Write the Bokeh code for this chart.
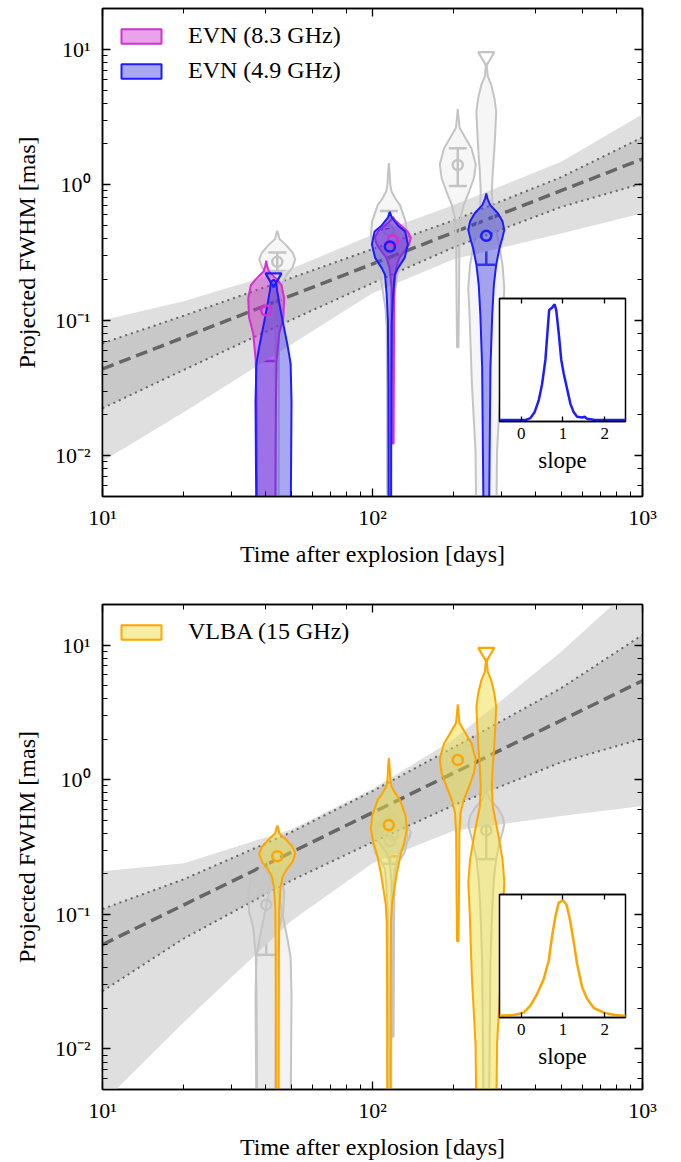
import numpy as np
from bokeh.plotting import figure
from bokeh.layouts import row, column
from bokeh.models import (LogAxis, LinearAxis, LogTicker, FixedTicker, CustomJSTickFormatter,
                          Range1d, Whisker, TeeHead, Legend, LegendItem, ColumnDataSource)
from bokeh.embed import file_html
from bokeh.resources import INLINE

FONT = "Liberation Serif"

# ---------------- data ----------------
x_lim = [10, 1000.5]
y_lim = [0.005, 20]

band_t = [10, 20, 50, 100, 200, 500, 1000]

# EVN power-law fit (top panel), FWHM in mas
evn_fit_t = [10, 1000]
evn_fit_med = [0.0437, 1.549]
evn_dark_lo = [0.0224, 0.0430, 0.1005, 0.188, 0.345, 0.686, 1.023]
evn_dark_hi = [0.0676, 0.108, 0.205, 0.335, 0.547, 1.138, 2.239]
evn_light_lo = [0.00912, 0.0209, 0.0661, 0.158, 0.282, 0.437, 0.617]
evn_light_hi = [0.100, 0.138, 0.240, 0.427, 0.708, 1.479, 3.311]

# VLBA power-law fit (bottom panel)
vlba_fit_t = [10, 1000]
vlba_fit_med = [0.0596, 5.43]
vlba_dark_lo = [0.0269, 0.0661, 0.178, 0.343, 0.646, 1.349, 2.018]
vlba_dark_hi = [0.1096, 0.182, 0.407, 0.822, 1.738, 4.786, 11.89]
vlba_light_lo = [0.00398, 0.0158, 0.0891, 0.240, 0.417, 0.537, 0.637]
vlba_light_hi = [0.209, 0.240, 0.427, 0.851, 1.995, 8.91, 31.6]

# measurements
evn83_t = [40.4, 119]
evn83_med = [0.118, 0.39]
evn83_lo = [0.050, 0.34]
evn83_hi = [0.171, 0.44]

evn49_t = [116, 264]
evn49_med = [0.35, 0.42]
evn49_lo = [0.237, 0.257]
evn49_hi = [0.47, 0.54]
evn49_ul_t = [43]
evn49_ul = [0.205]

vlba_t = [44.4, 115, 207]
vlba_med = [0.27, 0.46, 1.40]
vlba_lo = [0.231, 0.27, 0.98]
vlba_hi = [0.316, 0.64, 1.86]
vlba_ul_t = [264]
vlba_ul = [8.8]

# posterior violins: log10(FWHM) knots and relative half-width
evn83_vio_t = [40.4, 119]
evn83_vio_logy = [
    [-0.56, -0.60, -0.64, -0.70, -0.74, -0.84, -0.98, -1.10, -1.30, -1.60, -2.00, -2.50],
    [-0.235, -0.26, -0.30, -0.345, -0.39, -0.44, -0.49, -0.54, -0.615, -0.75, -1.20, -1.91],
]
evn83_vio_w = [
    [0.0, 0.05, 0.15, 0.60, 0.85, 1.0, 0.95, 0.72, 0.58, 0.54, 0.52, 0.50],
    [0.0, 0.10, 0.45, 0.82, 1.0, 0.90, 0.64, 0.36, 0.18, 0.08, 0.06, 0.04],
]

evn49_vio_t = [43, 116, 264]
evn49_vio_logy = [
    [-0.70, -0.72, -0.78, -0.86, -1.00, -1.10, -1.20, -1.32, -1.60, -2.00, -2.50],
    [-0.20, -0.24, -0.30, -0.345, -0.44, -0.54, -0.615, -0.664, -0.81, -1.00, -1.50, -2.50],
    [-0.064, -0.10, -0.15, -0.21, -0.27, -0.333, -0.39, -0.47, -0.59, -0.74, -0.96, -1.35, -2.50],
]
evn49_vio_w = [
    [0.0, 0.15, 0.20, 0.30, 0.50, 0.65, 0.80, 0.95, 1.0, 0.98, 0.95],
    [0.0, 0.10, 0.45, 0.85, 1.0, 0.82, 0.45, 0.27, 0.18, 0.11, 0.08, 0.07],
    [0.0, 0.06, 0.22, 0.64, 0.90, 1.0, 0.90, 0.73, 0.55, 0.42, 0.33, 0.23, 0.15],
]

vlba_vio_t = [44.4, 115, 207, 264]
vlba_vio_logy = [
    [-0.34, -0.36, -0.40, -0.44, -0.50, -0.55, -0.61, -0.66, -0.72, -0.80, -0.95, -1.30, -1.80, -2.50],
    [0.16, 0.10, 0.00, -0.05, -0.10, -0.15, -0.27, -0.37, -0.47, -0.56, -0.69, -0.80, -0.92, -1.05, -1.50, -2.50],
    [0.56, 0.50, 0.42, 0.34, 0.27, 0.15, 0.05, -0.05, -0.15, -0.25, -0.40, -0.80, -1.20],
    [0.90, 0.85, 0.80, 0.74, 0.64, 0.54, 0.39, 0.245, 0.10, -0.05, -0.20, -0.39, -0.59, -0.76, -1.00, -1.47, -1.96, -2.50],
]
vlba_vio_w = [
    [0.0, 0.05, 0.12, 0.45, 0.85, 1.0, 0.85, 0.55, 0.30, 0.18, 0.11, 0.09, 0.08, 0.07],
    [0.0, 0.04, 0.08, 0.15, 0.35, 0.62, 0.93, 1.0, 0.85, 0.65, 0.45, 0.32, 0.18, 0.12, 0.10, 0.09],
    [0.0, 0.04, 0.10, 0.45, 0.76, 1.0, 0.90, 0.63, 0.33, 0.15, 0.09, 0.07, 0.04],
    [0.0, 0.05, 0.08, 0.27, 0.45, 0.55, 0.50, 0.44, 0.36, 0.31, 0.36, 0.64, 0.90, 1.0, 0.92, 0.80, 0.60, 0.55],
]

# slope posteriors (insets)
inset_ticks = [0, 1, 2]
evn_slope_x = [-0.52, 0.10, 0.22, 0.32, 0.42, 0.50, 0.58, 0.64, 0.67, 0.74, 0.80, 0.84, 0.90,
               0.96, 1.02, 1.10, 1.18, 1.26, 1.34, 1.46, 1.52, 1.58, 1.74, 1.90, 2.50]
evn_slope_pdf = [0.0, 0.0, 0.017, 0.067, 0.17, 0.31, 0.52, 0.81, 0.95, 0.97, 1.0, 0.95, 0.75,
                 0.52, 0.40, 0.27, 0.14, 0.067, 0.029, 0.023, 0.029, 0.012, 0.003, 0.0, 0.0]
vlba_slope_x = [-0.52, -0.18, 0.06, 0.22, 0.38, 0.54, 0.66, 0.74, 0.82, 0.90, 1.00, 1.09, 1.17,
                1.25, 1.34, 1.46, 1.58, 1.74, 1.98, 2.24, 2.52]
vlba_slope_pdf = [0.003, 0.01, 0.03, 0.09, 0.19, 0.32, 0.48, 0.69, 0.86, 0.98, 1.0, 0.96, 0.83,
                  0.66, 0.45, 0.25, 0.15, 0.07, 0.03, 0.01, 0.0]

# ---------------- styles ----------------
MAG = "#d42ed4"
MAG_FILL = "#cc22cc"
BLUE = "#1c1cff"
BLUE_FILL = "#3030e0"
ORANGE = "#ffa500"
ORANGE_FILL = "#eedd44"
GRAY = "#c4c4c4"
LIGHT = "#dfdfdf"
DARK = "#c8c8c8"
LINE = "#666666"
VIO_HALF = 18.0 / 270.0   # max half width of a violin, in dex of time

MAIN_W = 666
TOP_H = 580
BOT_H = 582

SUP = CustomJSTickFormatter(code="""
const e = Math.round(Math.log10(tick));
const m = {"-": "\u207b", "0": "\u2070", "1": "\u00b9", "2": "\u00b2", "3": "\u00b3", "4": "\u2074"};
return "10" + String(e).split("").map(c => m[c]).join("");
""")


def empty_fmt():
    return CustomJSTickFormatter(code="return '';")


def style_axis(ax, maj=8, mnr=5):
    ax.major_tick_in = maj
    ax.major_tick_out = 0
    ax.minor_tick_in = mnr
    ax.minor_tick_out = 0
    ax.major_tick_line_width = 1.3
    ax.minor_tick_line_width = 1.0
    ax.major_tick_line_color = "black"
    ax.minor_tick_line_color = "black"
    ax.axis_line_width = 1.5
    ax.axis_line_color = "black"
    ax.major_label_text_font = FONT
    ax.major_label_text_font_size = "22px"
    ax.major_label_text_color = "black"
    ax.axis_label_text_font = FONT
    ax.axis_label_text_font_size = "24px"
    ax.axis_label_text_font_style = "normal"
    ax.axis_label_text_color = "black"


def hide_labels(ax):
    ax.formatter = empty_fmt()
    ax.major_label_text_font_size = "0px"
    ax.major_label_standoff = 0


def violin_polys(ts, logys, ws):
    xs, ys = [], []
    for t, L, w in zip(ts, logys, ws):
        L = np.asarray(L, float)
        w = np.asarray(w, float)
        y = 10.0 ** L
        xl = t * 10.0 ** (-VIO_HALF * w)
        xr = t * 10.0 ** (VIO_HALF * w)
        xs.append([float(v) for v in list(xl) + list(xr[::-1])])
        ys.append([float(v) for v in list(y) + list(y[::-1])])
    return xs, ys


def main_panel(height, top_b, bottom_b):
    p = figure(width=MAIN_W, height=height, x_axis_type="log", y_axis_type="log",
               x_range=Range1d(*x_lim), y_range=Range1d(*y_lim),
               output_backend="svg", toolbar_location=None,
               min_border_left=102, min_border_right=24,
               min_border_top=top_b, min_border_bottom=bottom_b)
    p.frame_align = False
    p.grid.visible = False
    p.outline_line_color = "black"
    p.outline_line_width = 1.5
    p.background_fill_color = "white"
    p.border_fill_color = "white"
    for ax in (p.xaxis[0], p.yaxis[0]):
        style_axis(ax)
        ax.formatter = SUP
    p.xaxis.major_label_standoff = 8
    p.yaxis.major_label_standoff = 12
    p.xaxis.axis_label = "Time after explosion [days]"
    p.xaxis.axis_label_standoff = 8
    p.yaxis.axis_label = "Projected FWHM [mas]"
    p.yaxis.axis_label_standoff = 12
    ra = LogAxis(ticker=LogTicker())
    style_axis(ra)
    hide_labels(ra)
    p.add_layout(ra, "right")
    ta = LogAxis(ticker=LogTicker())
    style_axis(ta)
    hide_labels(ta)
    p.add_layout(ta, "above")
    return p


def draw_fit(p, fit_t, fit_med, dlo, dhi, llo, lhi):
    p.varea(x=band_t, y1=llo, y2=lhi, fill_color=LIGHT)
    p.varea(x=band_t, y1=dlo, y2=dhi, fill_color=DARK)
    p.line(fit_t, fit_med, line_color=LINE, line_width=3.5, line_dash="12 6")
    p.line(band_t, dhi, line_color=LINE, line_width=2, line_dash="2 4")
    p.line(band_t, dlo, line_color=LINE, line_width=2, line_dash="2 4")


def draw_violins(p, ts, logys, ws, line, fill, alpha):
    xs, ys = violin_polys(ts, logys, ws)
    return p.patches(xs, ys, line_color=line, line_width=2, fill_color=fill, fill_alpha=alpha)


def draw_points(p, t, med, lo, hi, color):
    src = ColumnDataSource(dict(t=t, med=med, lo=lo, hi=hi))
    w = Whisker(source=src, base="t", upper="hi", lower="lo", dimension="height",
                line_color=color, line_width=2.5,
                upper_head=TeeHead(size=18, line_color=color, line_width=2.5),
                lower_head=TeeHead(size=18, line_color=color, line_width=2.5))
    p.add_layout(w)
    p.scatter("t", "med", source=src, marker="circle", size=10, fill_color=None,
              line_color=color, line_width=2.5)


def draw_ul(p, t, ul, color):
    p.scatter(t, ul, marker="inverted_triangle", size=16, fill_color=None,
              line_color=color, line_width=2.2)


def inset(xs, ys, color, height, top_b):
    # tall transparent figure; only the small frame at (top_b) is drawn
    q = figure(width=146, height=height, x_range=Range1d(-0.52, 2.5), y_range=Range1d(-0.012, 1.05),
               output_backend="svg", toolbar_location=None,
               min_border_left=10, min_border_right=10, min_border_top=top_b,
               min_border_bottom=height - top_b - 123)
    q.frame_align = False
    q.grid.visible = False
    q.outline_line_color = "black"
    q.outline_line_width = 1.5
    q.background_fill_color = "white"
    q.border_fill_color = None
    q.border_fill_alpha = 0
    q.yaxis.visible = False
    q.line(xs, ys, line_color=color, line_width=2.5)
    ax = q.xaxis[0]
    style_axis(ax, maj=5, mnr=0)
    ax.ticker = FixedTicker(ticks=inset_ticks)
    ax.major_label_text_font_size = "17px"
    ax.major_label_standoff = 6
    ax.axis_label = "slope"
    ax.axis_label_text_font_size = "23px"
    ax.axis_label_standoff = 6
    ta = LinearAxis(ticker=FixedTicker(ticks=inset_ticks))
    style_axis(ta, maj=5, mnr=0)
    hide_labels(ta)
    q.add_layout(ta, "above")
    q.margin = (0, 31, 0, -177)
    return q


def add_legend(p, items):
    leg = Legend(items=[LegendItem(label=l, renderers=[r]) for l, r in items],
                 location="top_left", margin=14, padding=5, spacing=8,
                 glyph_width=50, glyph_height=18, label_standoff=22,
                 label_text_font=FONT, label_text_font_size="24px", label_text_color="black",
                 border_line_color=None, background_fill_alpha=0)
    p.add_layout(leg)


# ---------------- top panel (EVN) ----------------
p1 = main_panel(TOP_H, 8, 84)
draw_fit(p1, evn_fit_t, evn_fit_med, evn_dark_lo, evn_dark_hi, evn_light_lo, evn_light_hi)
draw_violins(p1, vlba_vio_t, vlba_vio_logy, vlba_vio_w, GRAY, GRAY, 0.15)
draw_points(p1, vlba_t, vlba_med, vlba_lo, vlba_hi, GRAY)
draw_ul(p1, vlba_ul_t, vlba_ul, GRAY)
r83 = draw_violins(p1, evn83_vio_t, evn83_vio_logy, evn83_vio_w, MAG, MAG_FILL, 0.42)
r49 = draw_violins(p1, evn49_vio_t, evn49_vio_logy, evn49_vio_w, BLUE, BLUE_FILL, 0.42)
draw_points(p1, evn83_t, evn83_med, evn83_lo, evn83_hi, MAG)
draw_points(p1, evn49_t, evn49_med, evn49_lo, evn49_hi, BLUE)
draw_ul(p1, evn49_ul_t, evn49_ul, BLUE)
add_legend(p1, [("EVN (8.3 GHz)", r83), ("EVN (4.9 GHz)", r49)])

q1 = inset(evn_slope_x, evn_slope_pdf, BLUE, TOP_H, 298)

# ---------------- bottom panel (VLBA) ----------------
p2 = main_panel(BOT_H, 24, 70)
draw_fit(p2, vlba_fit_t, vlba_fit_med, vlba_dark_lo, vlba_dark_hi, vlba_light_lo, vlba_light_hi)
draw_violins(p2, evn83_vio_t, evn83_vio_logy, evn83_vio_w, GRAY, GRAY, 0.2)
draw_violins(p2, evn49_vio_t, evn49_vio_logy, evn49_vio_w, GRAY, GRAY, 0.2)
draw_points(p2, evn83_t, evn83_med, evn83_lo, evn83_hi, GRAY)
draw_points(p2, evn49_t, evn49_med, evn49_lo, evn49_hi, GRAY)
draw_ul(p2, evn49_ul_t, evn49_ul, GRAY)
rv = draw_violins(p2, vlba_vio_t, vlba_vio_logy, vlba_vio_w, ORANGE, ORANGE_FILL, 0.5)
draw_points(p2, vlba_t, vlba_med, vlba_lo, vlba_hi, ORANGE)
draw_ul(p2, vlba_ul_t, vlba_ul, ORANGE)
add_legend(p2, [("VLBA (15 GHz)", rv)])

q2 = inset(vlba_slope_x, vlba_slope_pdf, ORANGE, BOT_H, 314)

layout = column(row(p1, q1), row(p2, q2))

with open("out.html", "w", encoding="utf-8") as f:
    f.write(file_html(layout, INLINE))
